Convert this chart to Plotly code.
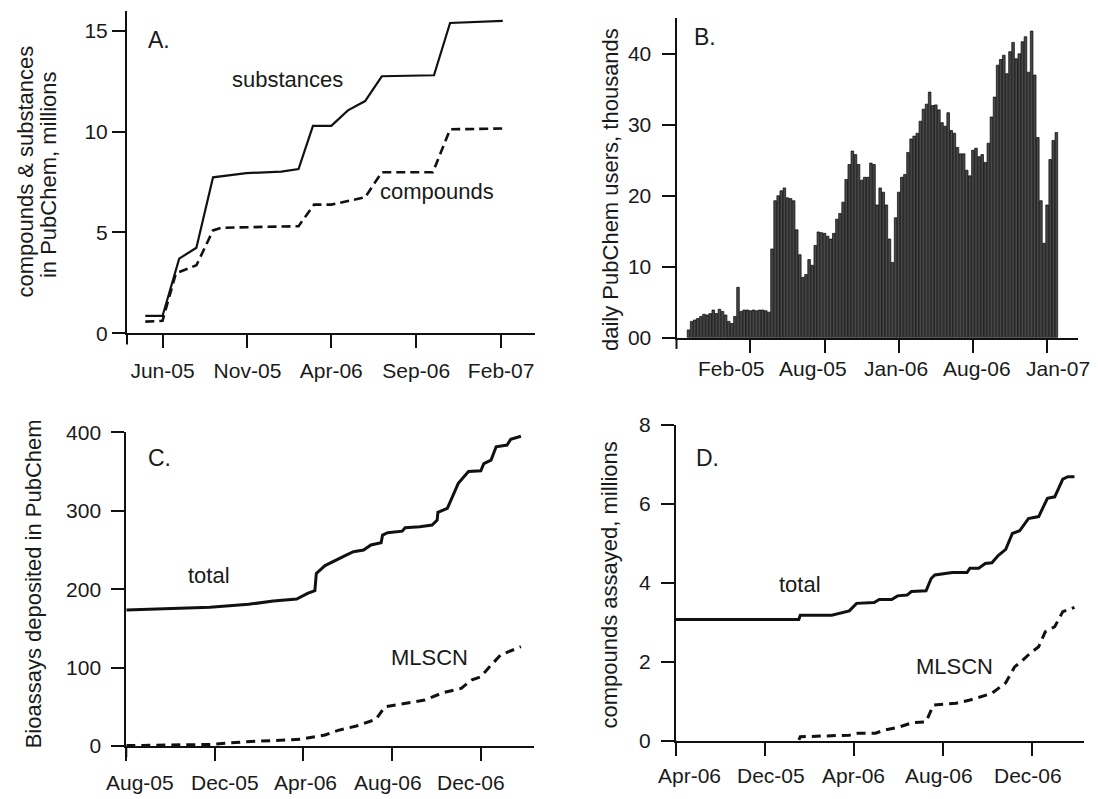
import plotly.graph_objects as go

W, H = 1098, 799
FONT = "Liberation Sans, Arial, sans-serif"
INK = "#111111"
OFF = 8  # page body margin in the browser

# ---------------- Panel A: compounds & substances (millions) ----------------
a_sub_dates = ["2005-05-01", "2005-06-01", "2005-07-01", "2005-08-01", "2005-08-31",
               "2005-10-30", "2006-01-01", "2006-02-01", "2006-02-27", "2006-04-01",
               "2006-05-01", "2006-06-01", "2006-07-01", "2006-10-03", "2006-11-01",
               "2007-02-04"]
a_sub_vals = [0.86, 0.86, 3.70, 4.24, 7.73, 7.94, 8.01, 8.14, 10.28, 10.28,
              11.05, 11.51, 12.74, 12.79, 15.38, 15.49]
a_cmp_dates = ["2005-05-01", "2005-06-01", "2005-06-25", "2005-07-01", "2005-08-01",
               "2005-08-31", "2005-09-15", "2006-02-01", "2006-03-01", "2006-04-01",
               "2006-06-01", "2006-07-01", "2006-10-01", "2006-11-01", "2007-02-04"]
a_cmp_vals = [0.58, 0.62, 2.96, 3.04, 3.37, 5.10, 5.23, 5.31, 6.38, 6.38,
              6.74, 7.98, 7.98, 10.11, 10.15]
a_tickvals = ["2005-06-01", "2005-11-01", "2006-04-01", "2006-09-01", "2007-02-01"]
a_ticktext = ["Jun-05", "Nov-05", "Apr-06", "Sep-06", "Feb-07"]

# ---------------- Panel B: daily PubChem users (thousands), weekly bars ----------------
b_users = [1.1, 2.3, 2.5, 2.7, 3.0, 3.3, 3.2, 3.4, 3.9, 3.4, 4.0, 3.7, 3.2, 2.3, 2.0,
           3.0, 7.1, 3.7, 3.9, 3.9, 3.8, 3.9, 3.8, 3.9, 3.9, 3.8, 3.6,
           12.5, 19.3, 20.0, 20.7, 21.1, 19.7, 19.6, 19.3, 15.2, 11.7, 8.5, 8.9, 11.0,
           10.2, 13.0, 14.9, 14.8, 14.7, 14.3, 13.9, 14.7, 16.7, 17.5, 19.1, 22.3, 24.4,
           26.3, 25.8, 24.4, 22.2, 22.6, 22.6, 24.6, 24.4, 18.7, 21.1, 20.5, 18.7, 13.9,
           10.6, 16.9, 20.5, 22.6, 23.0, 26.1, 28.0, 28.4, 28.8, 30.5, 32.2, 32.9, 34.6,
           32.7, 32.8, 32.1, 30.3,
           29.8, 31.7, 29.2, 28.8, 26.8, 25.9, 25.9, 23.6, 22.8, 26.4, 26.7, 25.5, 25.8,
           24.7, 27.4, 31.1, 33.9, 38.4, 39.2, 39.8, 37.2, 40.3, 41.6, 39.3, 40.0, 41.7,
           42.4, 37.4, 43.2, 37.0, 28.2, 19.3,
           13.3, 18.7, 25.1, 27.8, 28.9]
b_weeks = list(range(len(b_users)))
b_tickvals = [20, 44, 68, 92, 116]              # tick marks
b_labelpos = [13.9, 40.4, 67.0, 93.3, 119.6]    # where the tick labels sit
b_ticktext = ["Feb-05", "Aug-05", "Jan-06", "Aug-06", "Jan-07"]
b_ytickvals = [0, 10, 20, 30, 40]
b_yticktext = ["00", "10", "20", "30", "40"]

# ---------------- Panel C: bioassays deposited ----------------
c_tot_dates = ["2005-08-01", "2005-11-24", "2006-01-16", "2006-02-19", "2006-03-23",
               "2006-04-07", "2006-04-17", "2006-04-19", "2006-05-01", "2006-05-15",
               "2006-05-30", "2006-06-09", "2006-06-23", "2006-07-03", "2006-07-17",
               "2006-07-19", "2006-07-26", "2006-08-15", "2006-08-19", "2006-09-08",
               "2006-09-25", "2006-10-02", "2006-10-03", "2006-10-16", "2006-10-21",
               "2006-10-26", "2006-10-31", "2006-11-14", "2006-12-01", "2006-12-05",
               "2006-12-15", "2006-12-22", "2007-01-06", "2007-01-11", "2007-01-25"]
c_tot_vals = [173.4, 176.8, 180.6, 184.9, 187.4, 194.6, 198, 220, 230, 237,
              243.5, 247.8, 249.9, 256.3, 259.2, 269, 272, 274, 278.4, 279.6,
              281.8, 288, 298, 303, 313.6, 326, 335, 350, 351, 360,
              364.6, 381.6, 383.8, 391, 395]
c_mls_dates = ["2005-08-01", "2005-11-24", "2006-01-13", "2006-03-28", "2006-05-01",
               "2006-05-19", "2006-06-13", "2006-07-10", "2006-07-22", "2006-08-19",
               "2006-09-15", "2006-10-10", "2006-11-04", "2006-11-18", "2006-12-01",
               "2006-12-13", "2006-12-28", "2007-01-25"]
c_mls_vals = [0.5, 2, 5.5, 8.5, 14, 20, 25.5, 34, 50, 54.4,
              58.6, 68, 73.5, 84, 88.4, 101, 116, 126.6]
cd_tickvals = ["2005-08-01", "2005-12-01", "2006-04-01", "2006-08-01", "2006-12-01"]
c_labelpos = ["2005-08-20", "2005-12-15", "2006-04-04", "2006-07-26", "2006-11-17"]
c_ticktext = ["Aug-05", "Dec-05", "Apr-06", "Aug-06", "Dec-06"]

# ---------------- Panel D: compounds assayed (millions) ----------------
d_tot_dates = ["2005-08-01", "2006-01-16", "2006-01-18", "2006-03-02", "2006-03-26",
               "2006-04-05", "2006-04-29", "2006-05-06", "2006-05-23", "2006-05-31",
               "2006-06-13", "2006-06-19", "2006-07-09", "2006-07-16", "2006-07-21",
               "2006-08-14", "2006-09-03", "2006-09-07", "2006-09-19", "2006-09-28",
               "2006-10-07", "2006-10-16", "2006-10-26", "2006-11-04", "2006-11-14",
               "2006-11-26", "2006-12-10", "2006-12-22", "2007-01-01", "2007-01-12",
               "2007-01-19", "2007-01-28"]
d_tot_vals = [3.07, 3.07, 3.18, 3.18, 3.29, 3.48, 3.50, 3.58, 3.58, 3.67,
              3.69, 3.78, 3.80, 4.11, 4.20, 4.26, 4.26, 4.37, 4.37, 4.49,
              4.51, 4.70, 4.85, 5.25, 5.32, 5.63, 5.68, 6.14, 6.18, 6.63,
              6.69, 6.69]
d_mls_dates = ["2006-01-16", "2006-01-18", "2006-03-26", "2006-04-07",
               "2006-05-01", "2006-05-13", "2006-06-01", "2006-06-21", "2006-07-09",
               "2006-07-19", "2006-08-19", "2006-09-07", "2006-10-07", "2006-10-26",
               "2006-11-07", "2006-11-16", "2006-11-28", "2006-12-10", "2006-12-19",
               "2007-01-01", "2007-01-12", "2007-01-28"]
d_mls_vals = [0.02, 0.10, 0.14, 0.19, 0.19, 0.27, 0.34, 0.46, 0.48,
              0.90, 0.95, 1.03, 1.20, 1.47, 1.87, 2.00, 2.21, 2.38, 2.76,
              2.89, 3.27, 3.38]
d_labelpos = ["2005-08-19", "2005-12-09", "2006-04-01", "2006-07-27", "2006-11-26"]
d_ticktext = ["Apr-06", "Dec-05", "Apr-06", "Aug-06", "Dec-06"]


def px(x, y):
    """page pixel -> paper fraction (figure is drawn offset by the body margin)"""
    return (x - OFF) / W, 1 - (y - OFF) / H


def xdom(x0, x1):
    return [px(x0, 0)[0], px(x1, 0)[0]]


def ydom(ybot, ytop):
    return [px(0, ybot)[1], px(0, ytop)[1]]


fig = go.Figure()
solid = dict(color=INK, width=2.2)
dash = dict(color=INK, width=2.6, dash="9px,5px")

fig.add_trace(go.Scatter(x=a_sub_dates, y=a_sub_vals, mode="lines", line=solid,
                         xaxis="x", yaxis="y", cliponaxis=False))
fig.add_trace(go.Scatter(x=a_cmp_dates, y=a_cmp_vals, mode="lines", line=dash,
                         xaxis="x", yaxis="y", cliponaxis=False))
fig.add_trace(go.Bar(x=b_weeks, y=b_users, xaxis="x2", yaxis="y2",
                     marker=dict(color="#484848", line=dict(color="#050505", width=0.7))))
fig.add_trace(go.Scatter(x=c_tot_dates, y=c_tot_vals, mode="lines",
                         line=dict(color=INK, width=3), xaxis="x3", yaxis="y3", cliponaxis=False))
fig.add_trace(go.Scatter(x=c_mls_dates, y=c_mls_vals, mode="lines",
                         line=dict(color=INK, width=3, dash="9px,6px"), xaxis="x3", yaxis="y3",
                         cliponaxis=False))
fig.add_trace(go.Scatter(x=d_tot_dates, y=d_tot_vals, mode="lines",
                         line=dict(color=INK, width=3), xaxis="x4", yaxis="y4", cliponaxis=False))
fig.add_trace(go.Scatter(x=d_mls_dates, y=d_mls_vals, mode="lines",
                         line=dict(color=INK, width=3, dash="9px,6px"), xaxis="x4", yaxis="y4",
                         cliponaxis=False))

TF = dict(size=21, color="#1a1a1a", family=FONT)
base = dict(showline=True, linecolor=INK, linewidth=2, ticks="outside", ticklen=13,
            tickwidth=2, tickcolor=INK, showgrid=False, zeroline=False, automargin=False,
            tickfont=TF, fixedrange=True)

fig.update_layout(
    template="none",
    width=W, height=H, margin=dict(l=0, r=0, t=0, b=0, pad=0), autosize=False,
    paper_bgcolor="white", plot_bgcolor="white", showlegend=False,
    font=dict(family=FONT, size=21, color="#1a1a1a"),
    bargap=0.16,
    xaxis=dict(base, domain=xdom(127, 535), anchor="y", type="date",
               range=["2005-03-29", "2007-04-03"], tickvals=a_tickvals, ticktext=a_ticktext,
               ticklabelstandoff=4),
    yaxis=dict(base, domain=ydom(333.3, 10.5), anchor="x", range=[0, 16],
               tickvals=[0, 5, 10, 15]),
    xaxis2=dict(base, domain=xdom(676.5, 1078), anchor="y2", range=[-3.9, 126],
                tickvals=b_tickvals, showticklabels=False),
    yaxis2=dict(base, domain=ydom(337.7, 18.3), anchor="x2", range=[0, 45],
                tickvals=b_ytickvals, ticktext=b_yticktext, ticklabelstandoff=6),
    xaxis3=dict(base, domain=xdom(126.3, 534), anchor="y3", type="date",
                range=["2005-08-01", "2007-02-12"], tickvals=cd_tickvals, showticklabels=False),
    yaxis3=dict(base, domain=ydom(746, 432.3), anchor="x3", range=[0, 400],
                tickvals=[0, 100, 200, 300, 400], ticklabelstandoff=6),
    xaxis4=dict(base, domain=xdom(676, 1084), anchor="y4", type="date",
                range=["2005-08-01", "2007-02-10"], tickvals=cd_tickvals, showticklabels=False),
    yaxis4=dict(base, domain=ydom(740.7, 425), anchor="x4", range=[0, 8],
                tickvals=[0, 2, 4, 6, 8], ticklabelstandoff=6),
)

# tick labels of panels B-D sit slightly apart from their tick marks
for xr, yr, poss, txts, shift in [("x2", "y2", b_labelpos, b_ticktext, -17),
                                  ("x3", "y3", c_labelpos, c_ticktext, -23),
                                  ("x4", "y4", d_labelpos, d_ticktext, -21)]:
    for p, t in zip(poss, txts):
        fig.add_annotation(text=t, x=p, y=0, xref=xr, yref=f"{yr} domain", showarrow=False,
                           xanchor="center", yanchor="top", yshift=shift, font=TF)

# y-axis lines extend a little below the x-axis
for xr, yr in [("x", "y"), ("x2", "y2"), ("x3", "y3"), ("x4", "y4")]:
    fig.add_shape(type="line", xref=f"{xr} domain", yref=f"{yr} domain",
                  x0=0, x1=0, y0=0, y1=-0.035, line=dict(color=INK, width=2))

texts = [
    ("A.", 158.6, 40, 23, 0), ("substances", 287, 80, 22, 0), ("compounds", 437, 191, 22, 0),
    ("B.", 705, 37, 23, 0),
    ("C.", 159.6, 458, 23, 0), ("total", 209, 575, 22, 0), ("MLSCN", 429, 657, 22, 0),
    ("D.", 707, 458, 23, 0), ("total", 800, 584, 22, 0), ("MLSCN", 954, 666, 22, 0),
    ("compounds & substances", 24.6, 172, 22, -90),
    ("in PubChem, millions", 49.1, 175, 22, -90),
    ("daily PubChem users, thousands", 610, 190, 22, -90),
    ("Bioassays deposited in PubChem", 33.3, 584, 22, -90),
    ("compounds assayed, millions", 608.6, 585, 22, -90),
]
for t, x, y, s, ang in texts:
    xp, yp = px(x, y)
    fig.add_annotation(text=t, x=xp, y=yp, xref="paper", yref="paper", showarrow=False,
                       xanchor="center", yanchor="middle", textangle=ang,
                       font=dict(size=s, family=FONT, color="#1a1a1a"))

fig.write_html("out.html")
